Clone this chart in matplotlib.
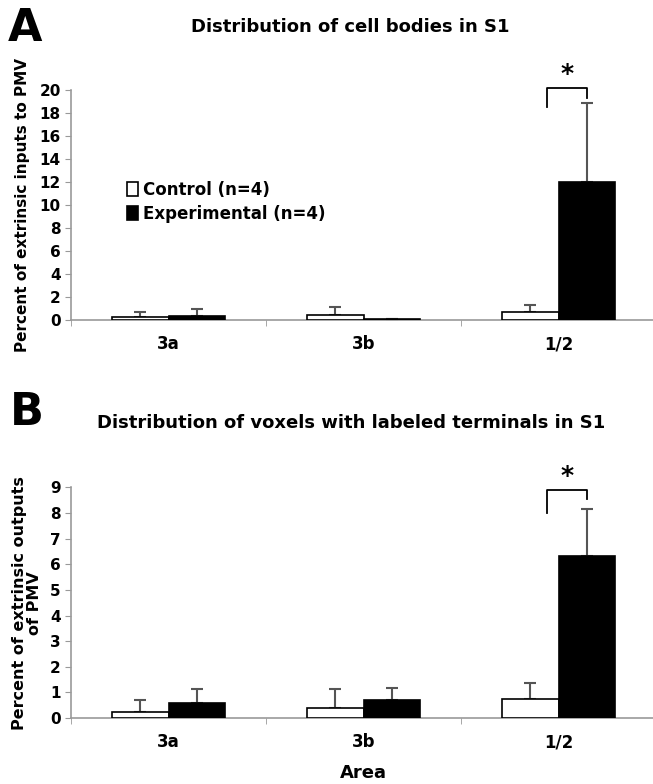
import numpy as np
import matplotlib.pyplot as plt
from matplotlib.patches import Patch

plt.rcParams['font.family'] = ['DejaVu Sans']
plt.rcParams['font.weight'] = 'bold'

areas = ['3a', '3b', '1/2']

# panel A: cell bodies
ctrl_a = [0.25, 0.4, 0.7]
ctrl_a_err = [0.45, 0.7, 0.6]
exp_a = [0.3, 0.05, 12.0]
exp_a_err = [0.65, 0.05, 6.9]
# significance bracket for 1/2: top, left leg end, right leg end
sig_a = [20.2, 18.5, 19.3]

# panel B: voxels with labeled terminals
ctrl_b = [0.24, 0.38, 0.73]
ctrl_b_err = [0.46, 0.74, 0.63]
exp_b = [0.6, 0.7, 6.33]
exp_b_err = [0.52, 0.47, 1.82]
sig_b = [8.9, 8.0, 8.55]

W = 0.29
ERR_COLOR = '#555555'
AX_COLOR = '#999999'


def draw_panel(ax, ctrl, ctrl_err, exp, exp_err, sig, ymax, ystep):
    centers = np.arange(len(areas)) + 0.5
    xc = centers - W / 2
    xe = centers + W / 2
    ax.bar(xc, ctrl, W, color='white', edgecolor='black', linewidth=1.2, zorder=3)
    ax.bar(xe, exp, W, color='black', edgecolor='black', linewidth=1.2, zorder=3)
    z = np.zeros(len(areas))
    ax.errorbar(xc, ctrl, yerr=[z, ctrl_err], fmt='none', ecolor=ERR_COLOR,
                elinewidth=1.5, capsize=4, capthick=1.5, zorder=2)
    ax.errorbar(xe, exp, yerr=[z, exp_err], fmt='none', ecolor=ERR_COLOR,
                elinewidth=1.5, capsize=4, capthick=1.5, zorder=2)

    # bracket + star over 1/2
    x0 = centers[2] - 0.06
    x1 = xe[2]
    ax.plot([x0, x0, x1, x1], [sig[1], sig[0], sig[0], sig[2]], color='black',
            lw=1.3, clip_on=False)
    ax.text((x0 + x1) / 2, sig[0] + ymax * 0.01, '*', ha='center', va='bottom',
            fontsize=18, fontweight='bold', clip_on=False)

    ax.set_xlim(0, 3)
    ax.set_ylim(0, ymax)
    ax.set_yticks(np.arange(0, ymax + 0.1, ystep))
    ax.set_xticks(centers)
    ax.set_xticklabels(areas, fontsize=12, fontweight='bold')
    ax.set_xticks([0, 1, 2, 3], minor=True)
    ax.tick_params(axis='x', which='major', length=0, pad=11)
    ax.tick_params(axis='x', which='minor', length=4, color=AX_COLOR, direction='out')
    ax.tick_params(axis='y', length=4, color=AX_COLOR, labelsize=11)
    for lab in ax.get_yticklabels():
        lab.set_fontweight('bold')
    for s in ['top', 'right']:
        ax.spines[s].set_visible(False)
    for s in ['left', 'bottom']:
        ax.spines[s].set_color(AX_COLOR)
        ax.spines[s].set_linewidth(1.2)


fig = plt.figure(figsize=(6.53, 7.84), dpi=100)

ax1 = fig.add_axes([0.109, 0.592, 0.896, 0.293])
draw_panel(ax1, ctrl_a, ctrl_a_err, exp_a, exp_a_err, sig_a, 20, 2)
ax1.set_ylabel('Percent of extrinsic inputs to PMV', fontsize=11, fontweight='bold', labelpad=7)
handles = [Patch(facecolor='white', edgecolor='black', linewidth=1.2),
           Patch(facecolor='black', edgecolor='black', linewidth=1.2)]
ax1.legend(handles, ['Control (n=4)', 'Experimental (n=4)'], loc='upper left',
           bbox_to_anchor=(0.095, 0.605), frameon=False, fontsize=12,
           handlelength=0.7, handleheight=0.9, handletextpad=0.3, labelspacing=0.35,
           borderaxespad=0, borderpad=0)

ax2 = fig.add_axes([0.109, 0.0842, 0.896, 0.294])
draw_panel(ax2, ctrl_b, ctrl_b_err, exp_b, exp_b_err, sig_b, 9, 1)
ax2.set_ylabel('Percent of extrinsic outputs\nof PMV', fontsize=11.5, fontweight='bold',
               labelpad=6, linespacing=1.0)
ax2.set_xlabel('Area', fontsize=13, fontweight='bold', labelpad=9)

fig.text(0.537, 0.966, 'Distribution of cell bodies in S1', ha='center', va='center',
         fontsize=13, fontweight='bold')
fig.text(0.537, 0.461, 'Distribution of voxels with labeled terminals in S1', ha='center',
         va='center', fontsize=13, fontweight='bold')
fig.text(0.012, 0.964, 'A', fontsize=32, fontweight='bold', va='center', ha='left')
fig.text(0.015, 0.474, 'B', fontsize=32, fontweight='bold', va='center', ha='left')

fig.savefig('out.png', dpi=100)
